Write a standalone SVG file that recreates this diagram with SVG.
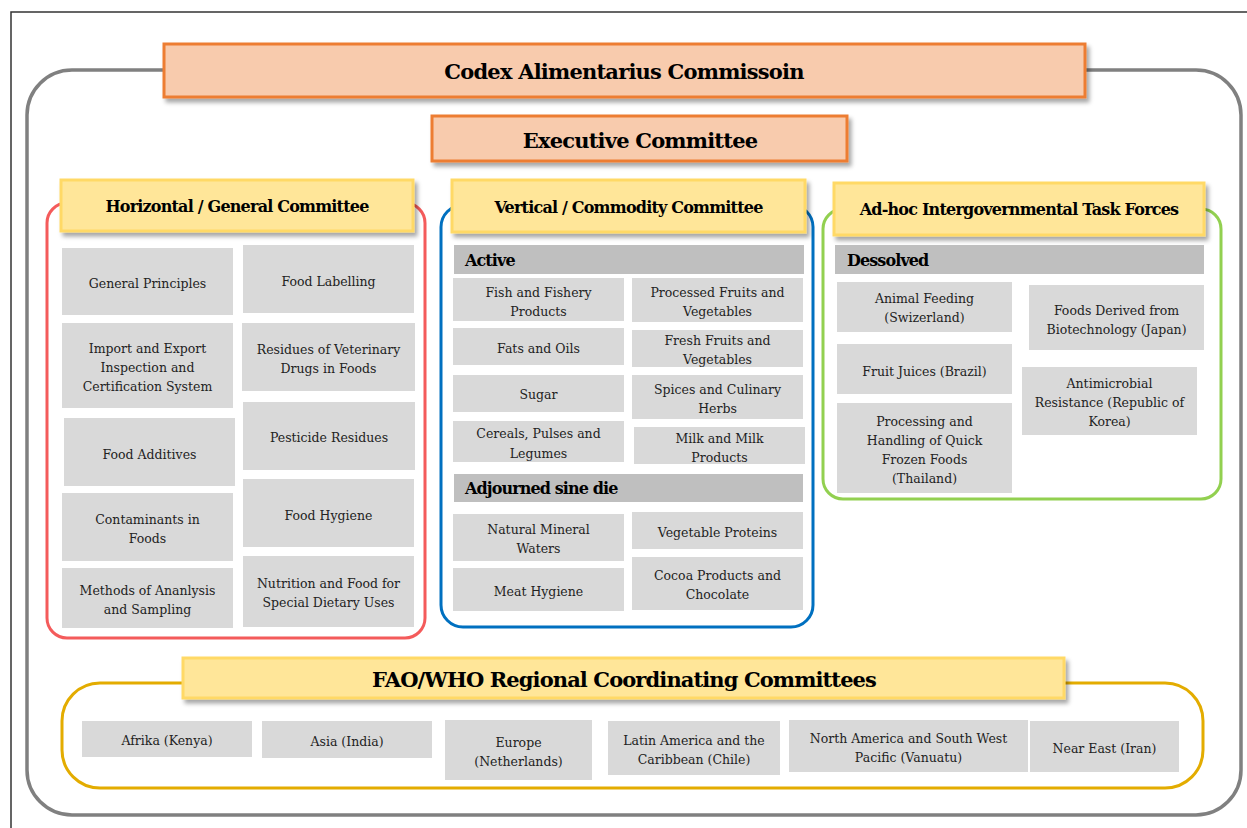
<svg xmlns="http://www.w3.org/2000/svg" width="1247" height="828" viewBox="0 0 1247 828">
<defs>
<filter id="sh" x="-5%" y="-20%" width="110%" height="150%">
<feDropShadow dx="3" dy="4" stdDeviation="2" flood-color="#000" flood-opacity="0.35"/>
</filter>
<style>
.bg{fill:#fff}
.frame{stroke:#333;stroke-width:1.5;fill:none}
.outer{fill:none;stroke:#808080;stroke-width:3.5}
.orange{fill:#f8cbad;stroke:#ed7d31;stroke-width:3}
.yel{fill:#ffe699;stroke:#ffd966;stroke-width:3}
.item{fill:#d9d9d9}
.bar{fill:#bfbfbf}
.t{font-family:"DejaVu Serif","Liberation Serif",serif;font-size:12.5px;fill:#222;text-anchor:middle}
.h{font-family:"DejaVu Serif","Liberation Serif",serif;font-weight:bold;fill:#000;text-anchor:middle}
.big{font-size:21px;letter-spacing:-0.8px}
.mid{font-size:16px;letter-spacing:-0.8px}
.b{font-family:"DejaVu Serif","Liberation Serif",serif;font-weight:bold;fill:#000;font-size:16px;letter-spacing:-0.9px}
</style>
</defs>
<rect class="bg" x="0" y="0" width="1247" height="828"/>
<path class="frame" d="M11 828 V12 H1247"/>
<rect class="outer" x="27" y="70" width="1214" height="745" rx="45"/>

<g id="codex">
<rect class="orange" x="164" y="44" width="921" height="53" filter="url(#sh)"/>
<text class="h big" x="624" y="79">Codex Alimentarius Commissoin</text>
</g>
<g id="executive">
<rect class="orange" x="432" y="116" width="415" height="45" filter="url(#sh)"/>
<text class="h big" x="640" y="148">Executive Committee</text>
</g>

<g id="horizontal">
<rect x="47" y="203" width="378" height="435" rx="20" fill="none" stroke="#f45b5b" stroke-width="3"/>
<rect class="yel" x="61" y="180" width="352" height="51" filter="url(#sh)"/>
<text class="h mid" x="237" y="212">Horizontal / General Committee</text>
<rect class="item" x="62" y="248" width="171" height="67"/>
<text class="t" x="147.5" y="288">General Principles</text>
<rect class="item" x="243" y="245" width="171" height="68"/>
<text class="t" x="328.5" y="286">Food Labelling</text>
<rect class="item" x="62" y="323" width="171" height="85"/>
<text class="t" x="147.5" y="353">Import and Export</text>
<text class="t" x="147.5" y="372">Inspection and</text>
<text class="t" x="147.5" y="391">Certification System</text>
<rect class="item" x="242" y="323" width="173" height="68"/>
<text class="t" x="328.5" y="354">Residues of Veterinary</text>
<text class="t" x="328.5" y="373">Drugs in Foods</text>
<rect class="item" x="64" y="418" width="171" height="68"/>
<text class="t" x="149.5" y="459">Food Additives</text>
<rect class="item" x="243" y="402" width="172" height="68"/>
<text class="t" x="329" y="442">Pesticide Residues</text>
<rect class="item" x="62" y="493" width="171" height="68"/>
<text class="t" x="147.5" y="524">Contaminants in</text>
<text class="t" x="147.5" y="543">Foods</text>
<rect class="item" x="243" y="479" width="171" height="68"/>
<text class="t" x="328.5" y="520">Food Hygiene</text>
<rect class="item" x="62" y="568" width="171" height="60"/>
<text class="t" x="147.5" y="595">Methods of Ananlysis</text>
<text class="t" x="147.5" y="614">and Sampling</text>
<rect class="item" x="243" y="556" width="171" height="71"/>
<text class="t" x="328.5" y="588">Nutrition and Food for</text>
<text class="t" x="328.5" y="607">Special Dietary Uses</text>
</g>

<g id="vertical">
<rect x="441" y="205" width="372" height="422" rx="22" fill="none" stroke="#0070c0" stroke-width="3"/>
<rect class="yel" x="452" y="180" width="353" height="52" filter="url(#sh)"/>
<text class="h mid" x="628.5" y="213">Vertical / Commodity Committee</text>
<rect class="bar" x="454" y="245" width="350" height="29"/>
<text class="b" x="465" y="266">Active</text>
<rect class="item" x="453" y="278" width="171" height="43"/>
<text class="t" x="538.5" y="297">Fish and Fishery</text>
<text class="t" x="538.5" y="316">Products</text>
<rect class="item" x="632" y="278" width="171" height="44"/>
<text class="t" x="717.5" y="297">Processed Fruits and</text>
<text class="t" x="717.5" y="316">Vegetables</text>
<rect class="item" x="453" y="328" width="171" height="37"/>
<text class="t" x="538.5" y="353">Fats and Oils</text>
<rect class="item" x="632" y="330" width="171" height="37"/>
<text class="t" x="717.5" y="345">Fresh Fruits and</text>
<text class="t" x="717.5" y="364">Vegetables</text>
<rect class="item" x="453" y="375" width="171" height="37"/>
<text class="t" x="538.5" y="399">Sugar</text>
<rect class="item" x="632" y="375" width="171" height="44"/>
<text class="t" x="717.5" y="394">Spices and Culinary</text>
<text class="t" x="717.5" y="413">Herbs</text>
<rect class="item" x="453" y="421" width="171" height="41"/>
<text class="t" x="538.5" y="438">Cereals, Pulses and</text>
<text class="t" x="538.5" y="458">Legumes</text>
<rect class="item" x="634" y="427" width="171" height="37"/>
<text class="t" x="719.5" y="443">Milk and Milk</text>
<text class="t" x="719.5" y="462">Products</text>
<rect class="bar" x="454" y="474" width="349" height="28"/>
<text class="b" x="465" y="494">Adjourned sine die</text>
<rect class="item" x="453" y="514" width="171" height="47"/>
<text class="t" x="538.5" y="534">Natural Mineral</text>
<text class="t" x="538.5" y="553">Waters</text>
<rect class="item" x="632" y="512" width="171" height="37"/>
<text class="t" x="717.5" y="537">Vegetable Proteins</text>
<rect class="item" x="453" y="568" width="171" height="43"/>
<text class="t" x="538.5" y="596">Meat Hygiene</text>
<rect class="item" x="632" y="557" width="171" height="53"/>
<text class="t" x="717.5" y="580">Cocoa Products and</text>
<text class="t" x="717.5" y="599">Chocolate</text>
</g>

<g id="adhoc">
<rect x="823" y="209" width="398" height="290" rx="20" fill="none" stroke="#92d050" stroke-width="3"/>
<rect class="yel" x="834" y="183" width="370" height="52" filter="url(#sh)"/>
<text class="h mid" x="1019" y="215">Ad-hoc Intergovernmental Task Forces</text>
<rect class="bar" x="835" y="245" width="369" height="29"/>
<text class="b" x="847" y="266">Dessolved</text>
<rect class="item" x="837" y="282" width="175" height="50"/>
<text class="t" x="924.5" y="303">Animal Feeding</text>
<text class="t" x="924.5" y="322">(Swizerland)</text>
<rect class="item" x="1029" y="285" width="175" height="65"/>
<text class="t" x="1116.5" y="315">Foods Derived from</text>
<text class="t" x="1116.5" y="334">Biotechnology (Japan)</text>
<rect class="item" x="837" y="344" width="175" height="50"/>
<text class="t" x="924.5" y="376">Fruit Juices (Brazil)</text>
<rect class="item" x="1022" y="367" width="175" height="68"/>
<text class="t" x="1109.5" y="388">Antimicrobial</text>
<text class="t" x="1109.5" y="407">Resistance (Republic of</text>
<text class="t" x="1109.5" y="426">Korea)</text>
<rect class="item" x="837" y="403" width="175" height="90"/>
<text class="t" x="924.5" y="426">Processing and</text>
<text class="t" x="924.5" y="445">Handling of Quick</text>
<text class="t" x="924.5" y="464">Frozen Foods</text>
<text class="t" x="924.5" y="483">(Thailand)</text>
</g>

<g id="regional">
<rect x="62" y="683" width="1141" height="105" rx="38" fill="none" stroke="#e3ac00" stroke-width="3"/>
<rect class="yel" x="183" y="658" width="881" height="40" filter="url(#sh)"/>
<text class="h big" x="624" y="687" style="letter-spacing:-0.9px">FAO/WHO Regional Coordinating Committees</text>
<rect class="item" x="82" y="721" width="170" height="36"/>
<text class="t" x="167" y="745">Afrika (Kenya)</text>
<rect class="item" x="262" y="721" width="170" height="37"/>
<text class="t" x="347" y="746">Asia (India)</text>
<rect class="item" x="445" y="720" width="147" height="60"/>
<text class="t" x="518.5" y="747">Europe</text>
<text class="t" x="518.5" y="766">(Netherlands)</text>
<rect class="item" x="608" y="721" width="172" height="54"/>
<text class="t" x="694" y="745">Latin America and the</text>
<text class="t" x="694" y="764">Caribbean (Chile)</text>
<rect class="item" x="789" y="720" width="239" height="52"/>
<text class="t" x="908.5" y="743">North America and South West</text>
<text class="t" x="908.5" y="762">Pacific (Vanuatu)</text>
<rect class="item" x="1030" y="721" width="149" height="51"/>
<text class="t" x="1104.5" y="753">Near East (Iran)</text>
</g>
</svg>
